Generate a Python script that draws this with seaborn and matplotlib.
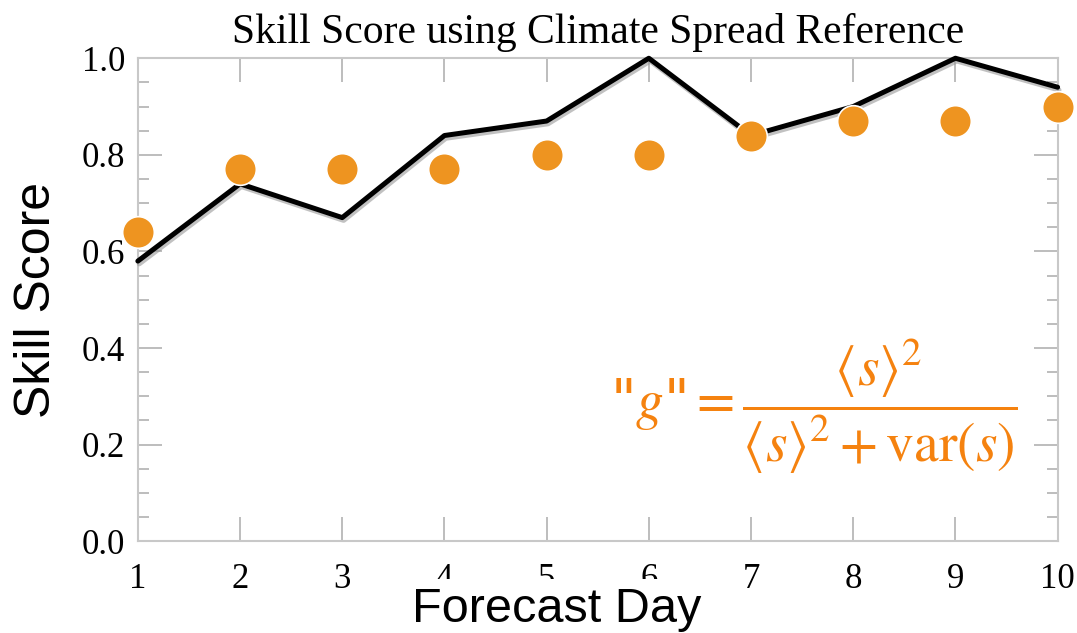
import matplotlib
matplotlib.use("Agg")
import matplotlib.pyplot as plt
import matplotlib.patheffects as pe
from matplotlib.ticker import MultipleLocator
import seaborn as sns
import pandas as pd

days = [1, 2, 3, 4, 5, 6, 7, 8, 9, 10]
skill_line = [0.58, 0.74, 0.67, 0.84, 0.87, 1.00, 0.84, 0.90, 1.00, 0.94]
skill_dots = [0.64, 0.77, 0.77, 0.77, 0.80, 0.80, 0.84, 0.87, 0.87, 0.90]
yticks = [0.0, 0.2, 0.4, 0.6, 0.8, 1.0]

df = pd.DataFrame({"day": days, "line": skill_line, "dots": skill_dots})

sns.set_style("white")
plt.rcParams["mathtext.fontset"] = "stix"

fig = plt.figure(figsize=(10.77, 6.33), dpi=100)
ax = fig.add_axes([0.128, 0.145, 0.854, 0.763])

sns.lineplot(data=df, x="day", y="line", ax=ax, color="black", linewidth=3.6,
             clip_on=False, zorder=4,
             path_effects=[pe.SimpleLineShadow(offset=(1, -2), shadow_color="0.6", alpha=0.6),
                           pe.Normal()])
sns.scatterplot(data=df, x="day", y="dots", ax=ax, color="#EE9420", s=520,
                edgecolor="white", linewidth=1.2, clip_on=False, zorder=5)

ax.set_xlim(1, 10)
ax.set_ylim(0, 1.0)
ax.set_xticks(days)
ax.set_yticks(yticks)
ax.set_yticklabels([f"{v:.1f}" for v in yticks])
ax.yaxis.set_minor_locator(MultipleLocator(0.05))

for s in ax.spines.values():
    s.set_color("#c8c8c8")
    s.set_linewidth(1.5)
    s.set_visible(True)

ax.tick_params(which="both", direction="in", top=True, right=True, left=True, bottom=True,
               color="#b8b8b8", width=1.3, labelcolor="black")
ax.tick_params(which="major", length=17, labelsize=25)
ax.tick_params(which="minor", length=8)
ax.tick_params(axis="x", pad=16)
ax.tick_params(axis="y", pad=9)
for lbl in ax.get_xticklabels() + ax.get_yticklabels():
    lbl.set_fontfamily("Liberation Serif")

ax.set_title("Skill Score using Climate Spread Reference", fontfamily="Liberation Serif",
             fontsize=30, pad=11, color="black")
ax.set_ylabel("Skill Score", fontfamily="Liberation Sans", fontsize=36, labelpad=16,
              color="black")
ax.set_xlabel("Forecast Day", fontfamily="Liberation Sans", fontsize=35, color="black",
              bbox=dict(facecolor="white", edgecolor="none", pad=6))
ax.xaxis.label.set_zorder(10)
ax.xaxis.set_label_coords(0.455, -0.095)
ax.xaxis.label.set_verticalalignment("top")

ax.text(0.735, 0.28, r'"$g$"$=\dfrac{\langle s\rangle^2}{\langle s\rangle^2+\mathrm{var}(s)}$',
        transform=ax.transAxes, color="#F5820F", fontsize=40, ha="center", va="center")

fig.savefig("out.png", dpi=100, facecolor="white")
